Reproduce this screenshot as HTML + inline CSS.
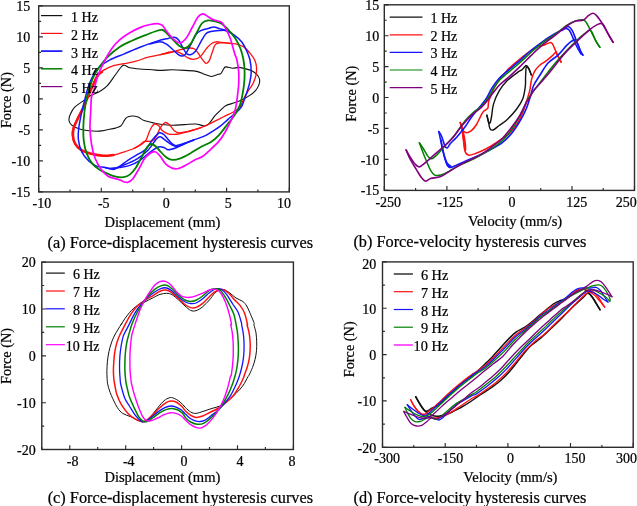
<!DOCTYPE html>
<html><head><meta charset="utf-8"><title>Hysteresis curves</title>
<style>html,body{margin:0;padding:0;background:#fff;}svg{display:block;filter:opacity(1);}text{font-family:"Liberation Serif",serif;fill:#000;stroke:#000;stroke-width:0.22px;}</style></head>
<body>
<svg width="637" height="506" viewBox="0 0 637 506">
<rect width="637" height="506" fill="#fff"/>
<g>
<path d="M90 96C92.7 94.5 96.3 93.5 99.2 91.8C102.1 90.1 104.7 88.6 107.4 85.7C110.1 82.8 113.2 77.7 115.6 74.5C118 71.3 120.2 67.8 121.7 66.3C123.2 64.8 123.3 65 124.7 65.3C126.1 65.5 127.3 67.2 129.8 67.8C132.4 68.4 136.2 68.7 140 69C143.8 69.3 148.9 69.6 152.3 69.8C155.7 70 157.1 70.4 160.4 70.4C163.7 70.4 168.2 69.8 172.2 69.8C176.2 69.8 180.4 70.1 184.5 70.4C188.6 70.7 193.3 70.7 196.7 71.4C200.1 72.1 202.5 73.7 204.9 74.5C207.3 75.3 209.3 76.3 211 76.5C212.7 76.7 213.8 75.8 215 75.4C216.2 75 217.2 74.6 218.2 74.3C219.2 74 220.1 74.4 220.9 73.6C221.8 72.8 222.5 70.6 223.3 69.5C224.1 68.4 224.1 67.1 225.7 66.9C227.3 66.7 230.6 68.2 232.8 68.3C235 68.4 236.5 67.3 238.7 67.4C240.9 67.5 243.6 68.4 245.8 68.9C248 69.5 250 69.8 251.8 70.7C253.6 71.6 255.2 72.8 256.5 74.2C257.8 75.6 259.1 77.2 259.5 79C259.9 80.8 259.6 82.9 258.9 84.9C258.2 86.9 256.9 89 255.3 90.8C253.7 92.6 251.8 94 249.4 95.6C247 97.2 243.9 99 241.1 100.3C238.3 101.6 235.4 102.4 232.8 103.3C230.2 104.2 227.7 104.6 225.7 105.7C223.7 106.8 222.7 108.1 220.9 109.8C219.1 111.5 217 113.4 215 115.7C213 118 210.7 121.9 209 123.6C207.3 125.3 207.1 125.9 204.9 126C202.7 126.1 199.1 124.2 195.7 124C192.3 123.8 188.4 124.4 184.5 124.6C180.6 124.8 176.2 125.3 172.2 125.2C168.2 125.1 163.7 124.6 160.4 124.2C157.1 123.8 155 123.2 152.3 122.6C149.6 122 146.5 121.4 144.1 120.5C141.7 119.6 140 117.8 138 117C136 116.2 133.8 115.9 131.9 116C130 116.1 128.2 116.5 126.8 117.4C125.4 118.3 124.7 120.1 123.7 121.5C122.7 122.9 122.1 124.9 120.7 126C119.3 127.1 117.8 127.5 115.6 128.1C113.4 128.7 110.1 129.2 107.4 129.7C104.7 130.2 102.3 130.9 99.2 131.1C96.1 131.3 92.4 131.1 89 130.7C85.6 130.3 81.7 129.6 78.8 128.7C75.9 127.8 73.3 126.6 71.7 125.2C70.1 123.8 69.2 122.3 69 120.5C68.8 118.7 69.2 116.6 70.2 114.4C71.2 112.2 72.6 109.4 74.7 107.2C76.8 105 80.4 103 82.9 101.1C85.5 99.2 87.3 97.5 90 96Z" fill="none" stroke="#111" stroke-width="1.1" stroke-linejoin="round" stroke-linecap="round"/>
<path d="M72.3 135.8C72 133.1 72.2 130.8 73.1 127.7C74 124.6 76 121.2 77.8 117.4C79.6 113.7 82.1 109.1 83.9 105.2C85.7 101.3 87 97.6 88.5 94C90 90.4 91.6 86.8 93.1 83.7C94.5 80.6 95.5 77.7 97.2 75.5C98.9 73.3 100.6 72 103.3 70.4C106 68.8 109.8 66.9 113.5 65.7C117.2 64.5 122 64 125.8 63.3C129.6 62.5 132.3 62.2 136 61.2C139.7 60.2 144.1 58.2 148.2 57.1C152.3 56 156.7 55.4 160.4 54.7C164.1 54 166.9 53.6 170.2 52.7C173.5 51.9 177.3 50.4 180.4 49.6C183.5 48.8 186.2 48.1 188.6 48C191 47.9 193 48 194.7 49C196.4 50 197.4 52.2 198.8 54.1C200.2 56 201.7 58.7 202.9 60.2C204.1 61.7 204.9 63.1 205.9 63.3C206.9 63.5 208 62.9 209 61.2C210 59.5 211 55.8 212 53.1C213 50.4 213.9 46.6 215.1 44.9C216.3 43.2 217.5 43.2 219.2 42.9C220.9 42.6 222.6 42.7 225.3 42.9C228 43.1 232.4 43.2 235.5 43.9C238.6 44.6 241.1 45.2 243.7 46.9C246.2 48.6 249 51.9 250.8 54.1C252.6 56.3 253.8 57.8 254.7 60C255.6 62.2 256.3 64.5 256.5 67.1C256.7 69.7 256.5 72.6 255.9 75.4C255.3 78.2 254.2 81.1 252.9 83.7C251.6 86.3 249.7 88.4 248.2 90.8C246.7 93.2 245.2 95.7 244.1 97.9C243 100.1 242.6 102.1 241.7 103.9C240.8 105.7 240.2 107.2 238.7 108.6C237.2 110 235 111 232.8 112.2C230.6 113.4 228.1 114.5 225.7 115.7C223.3 116.9 221.2 118 218.6 119.3C216 120.6 213 122.2 210 123.6C207 125 204.4 126.4 200.8 127.7C197.2 129.1 192.2 130.7 188.6 131.7C185 132.7 181.8 133.4 179.4 133.9C177 134.4 176.2 134.4 174.3 134.4C172.4 134.4 170 134.4 168 133.8C166 133.2 164.1 132.1 162.5 130.7C160.9 129.3 159.8 126.7 158.4 125.6C157 124.5 155.7 123.5 154.3 124.2C152.9 124.9 151.5 127.1 150.2 129.7C148.8 132.3 147.5 137.5 146.2 139.9C144.8 142.3 144.1 142.6 142.1 144C140.1 145.4 137 147.2 133.9 148.5C130.8 149.8 127.1 151 123.7 152.1C120.3 153.2 116.9 154.5 113.5 155.2C110.1 155.9 107 156.4 103.3 156.2C99.6 156 94.8 155.1 91.1 154.2C87.4 153.2 83.6 152.2 80.9 150.5C78.2 148.8 76.1 146.4 74.7 144C73.3 141.6 72.6 138.5 72.3 135.8Z" fill="none" stroke="#ff1010" stroke-width="1.3" stroke-linejoin="round" stroke-linecap="round"/>
<path d="M160.4 54.7C162 54.2 167.5 52.5 170.2 52C172.8 51.5 174.3 51.1 176.3 51.5C178.3 51.9 180.4 53 182.4 54.1C184.4 55.2 186.6 57.4 188.6 58.2C190.6 59.1 192.7 59.6 194.7 59.2C196.7 58.9 198.8 58 200.8 56.1C202.8 54.2 205 50.1 206.9 48C208.8 45.9 210.5 44.3 212 43.3C213.5 42.3 214.4 42 216.1 41.8C217.8 41.6 219.7 42.1 222 42.3C224.3 42.5 228.7 43.1 230 43.2" fill="none" stroke="#ff1010" stroke-width="1.3" stroke-linejoin="round" stroke-linecap="round"/>
<path d="M200.8 127.7C198.8 128.3 192.2 130.3 188.6 131.2C185 132 181.8 132.9 179.4 132.8C177 132.7 176 132.1 174.3 130.7C172.6 129.3 170.7 125.9 169.2 124.6C167.7 123.2 166.6 122.1 165.1 122.6C163.6 123.1 161.8 125.5 160.4 127.7C159 129.9 157.8 133.6 156.4 135.8C155.1 138 154.4 140 152.3 140.9C150.2 141.8 146.2 140.8 144.1 141.5C142 142.2 141.7 143.6 140 144.8C138.3 146 134.9 147.9 133.9 148.5" fill="none" stroke="#ff1010" stroke-width="1.3" stroke-linejoin="round" stroke-linecap="round"/>
<path d="M102 71.8C101.3 72.5 99 73.8 97.6 75.8C96.2 77.8 95 80.9 93.6 84C92.2 87.1 90.5 90.6 89 94.2C87.5 97.8 86.2 101.5 84.4 105.4C82.6 109.3 80.2 113.8 78.4 117.5C76.6 121.2 74.7 124.8 73.8 127.8C72.9 130.8 72.8 133.1 73 135.8C73.2 138.5 73.9 141.4 75.3 143.8C76.7 146.2 78.6 148.3 81.3 150C84 151.7 87.6 152.8 91.3 153.7C95 154.6 99.6 155.5 103.3 155.7C107 155.9 111.8 155.1 113.5 155" fill="none" stroke="#ff1010" stroke-width="2.5" stroke-linejoin="round" stroke-linecap="round"/>
<path d="M78.4 139.9C77.9 135.8 78.2 132.5 78.8 127.7C79.4 122.9 80.7 116.8 81.9 111.3C83.1 105.8 85 98.9 86 95C87 91.1 87 90.7 88 87.8C89 84.9 90.2 81 92.1 77.6C94 74.2 96.3 70.2 99.2 67.3C102.1 64.4 105.3 62.4 109.4 60.2C113.5 58 118.6 56.2 123.7 54.1C128.8 52 134.6 49.4 140 47.3C145.4 45.2 151.7 42.9 156.4 41.4C161.1 39.9 165.2 39.1 168.2 38.4C171.2 37.7 172.6 37.1 174.3 37.3C176 37.5 177.1 38.2 178.4 39.8C179.8 41.4 181.1 44.6 182.4 46.9C183.8 49.2 185.1 52.2 186.5 53.5C187.9 54.8 189.1 55.1 190.6 54.7C192.1 54.3 194 53.1 195.7 51C197.4 48.9 199.1 44.7 200.8 41.8C202.5 38.9 204.2 35.4 205.9 33.7C207.6 32 208.8 32.1 211 31.6C213.2 31.1 216.8 30.8 219.2 30.6C221.6 30.4 222.9 29.9 225.3 30.6C227.7 31.3 230.8 32.8 233.5 34.7C236.2 36.6 239.4 39.1 241.6 41.8C243.8 44.5 245.3 48 246.7 51C248.1 54 249.2 56.5 250 60C250.8 63.5 251.2 68.4 251.2 71.9C251.2 75.5 250.7 78 250 81.3C249.3 84.6 248 88.8 247 92C246 95.2 245.1 97.7 244.1 100.3C243.1 102.9 242.6 105.2 241.1 107.4C239.6 109.6 237.4 111.4 235.2 113.4C233 115.4 230.4 117.3 228 119.3C225.6 121.3 223.2 123.8 221 125.5C218.8 127.2 217.8 128 215.1 129.7C212.4 131.4 208.6 134 204.9 135.8C201.2 137.6 196.4 138.9 192.7 140.3C188.9 141.7 185.3 143.1 182.4 144C179.5 144.9 177.3 145.9 175.3 145.6C173.3 145.2 172.1 143.7 170.2 141.9C168.3 140.1 165.8 136.3 164.1 134.8C162.4 133.3 160.9 133 160 132.8C159.1 132.6 159.7 132.2 158.4 133.4C157.1 134.6 154.3 137.3 152.3 139.9C150.3 142.5 148.6 146.7 146.2 149.1C143.8 151.5 141.1 152.3 138 154.2C134.9 156.1 130.9 158.3 127.8 160.3C124.7 162.3 122 164.9 119.6 166.4C117.2 167.9 115.9 169.3 113.5 169.5C111.1 169.7 108 167.9 105.3 167.4C102.6 166.9 99.9 167.4 97.2 166.4C94.5 165.4 91.5 163.7 89 161.3C86.5 158.9 83.7 155.7 81.9 152.1C80.1 148.5 78.9 144 78.4 139.9Z" fill="none" stroke="#1414ff" stroke-width="1.5" stroke-linejoin="round" stroke-linecap="round"/>
<path d="M150 44C151.7 43.6 157.3 41.8 160 41.8C162.7 41.8 164.1 42.7 166.1 43.9C168.1 45.1 170.1 47.2 172.2 49C174.2 50.8 176.7 53.5 178.4 54.7C180.1 55.9 181.2 56.2 182.4 56.1C183.6 56 184.1 56 185.5 54.1C186.9 52.2 188.9 48.1 190.6 44.9C192.3 41.7 194 37.1 195.7 34.7C197.4 32.3 198.6 31.7 200.8 30.6C203 29.5 206.8 28.8 209 28.2C211.2 27.6 212.4 26.8 214.1 26.9C215.8 27 217.3 28.1 219.2 28.6C221.1 29.2 223.2 29.4 225.3 30.2C227.4 31 230.9 33 232 33.5" fill="none" stroke="#1414ff" stroke-width="1.5" stroke-linejoin="round" stroke-linecap="round"/>
<path d="M109 168.5C110.8 168.3 116.1 167.9 119.6 167.4C123.1 166.9 126.4 166.6 129.8 165.4C133.2 164.2 136.6 162.5 140 160.3C143.4 158.1 147.1 154.3 150.2 152.1C153.3 149.9 156 147.7 158.4 147C160.8 146.3 162.9 147.2 164.5 147.7C166.1 148.1 166.2 149.7 168.2 149.7C170.2 149.7 173.7 148.6 176.3 147.7C178.9 146.8 181.1 145.3 184 144C186.9 142.7 192.3 140.7 194 140" fill="none" stroke="#1414ff" stroke-width="1.5" stroke-linejoin="round" stroke-linecap="round"/>
<path d="M105 167.6C106.4 167.8 109.7 169.2 113.5 168.5C117.3 167.8 123.7 165.1 127.8 163.4C131.9 161.7 134.6 160.5 138 158.3C141.4 156.1 145.1 153.3 148.2 150.1C151.3 146.9 154.4 141.1 156.4 138.9C158.4 136.7 158.8 136.5 160.4 136.8C162 137.1 164.1 139.5 166.1 140.9C168.1 142.3 170.2 144.1 172.2 145C174.2 145.9 175.7 146.8 178 146.5C180.3 146.2 184.7 143.6 186 143" fill="none" stroke="#1414ff" stroke-width="1.5" stroke-linejoin="round" stroke-linecap="round"/>
<path d="M83.9 141.9C83.3 137.5 83.2 132.8 83.3 127.7C83.4 122.6 83.9 116.4 84.5 111.3C85.1 106.2 86.2 100.6 87 97C87.8 93.4 88 93 89 89.8C90 86.6 91.4 81.3 93.1 77.6C94.8 73.8 96.8 70.7 99.2 67.3C101.6 63.9 104 60.5 107.4 57.1C110.8 53.7 115.5 49.6 119.6 46.9C123.7 44.2 127.8 42.7 131.9 40.8C136 38.9 140 37.3 144.1 35.7C148.2 34.1 153.3 31.9 156.4 31C159.5 30.1 160.9 29.7 162.5 30C164.1 30.3 164.5 31.2 166.1 32.7C167.7 34.2 170 36.6 172.2 38.8C174.4 41 177.2 44.4 179.4 45.9C181.6 47.4 183.6 48.3 185.5 48C187.4 47.7 188.7 46.4 190.6 43.9C192.5 41.4 194.8 36.1 196.7 32.7C198.6 29.3 199.9 25.6 201.8 23.5C203.7 21.4 205.8 20.8 208 20.4C210.2 20 212.9 20.9 215.1 21.4C217.3 21.9 219.2 22.3 221.2 23.5C223.2 24.7 224.9 26.1 227.3 28.6C229.7 31.2 233.3 35.4 235.5 38.8C237.7 42.2 239.3 45.5 240.6 49C241.9 52.5 242.8 56.2 243.5 60C244.2 63.8 244.5 68 244.6 71.9C244.7 75.9 244.5 79.8 244.1 83.7C243.7 87.7 243 92 242.3 95.6C241.6 99.2 240.9 102.3 239.9 105.1C238.9 107.9 237.7 109.8 236.3 112.2C234.9 114.6 233.1 117.2 231.6 119.3C230.1 121.3 229.4 121.9 227.3 124.5C225.2 127.1 221.9 131.9 219.2 134.8C216.5 137.7 214.1 139.9 211 141.9C207.9 143.9 204.2 145.1 200.8 147C197.4 148.9 194 151.3 190.6 153.2C187.2 155.1 183.5 157.2 180.4 158.3C177.3 159.4 174.6 160.1 172.2 159.9C169.8 159.7 168.1 158.7 166.1 157.2C164.1 155.7 161.6 152.8 160 151.1C158.4 149.4 157.8 148.2 156.4 147C155 145.8 152.8 144 151.3 144C149.8 144 148.7 145 147.2 147C145.7 149 144 152.8 142.1 156.2C140.2 159.6 138.1 164.3 136 167.4C133.9 170.5 131.9 173 129.8 174.6C127.8 176.2 126.1 176.9 123.7 177.2C121.3 177.5 118.3 177.2 115.6 176.6C112.9 176 110.1 174.8 107.4 173.6C104.7 172.4 101.8 171.2 99.2 169.5C96.7 167.8 94.1 166 92.1 163.4C90.1 160.8 88.4 157.8 87 154.2C85.6 150.6 84.5 146.3 83.9 141.9Z" fill="none" stroke="#008000" stroke-width="1.8" stroke-linejoin="round" stroke-linecap="round"/>
<path d="M90 127.7C89.9 122.2 90.5 116.4 90.7 111.3C91 106.2 90.9 100.6 91.5 97C92.1 93.4 93.1 93 94.1 89.8C95 86.6 95.7 82 97.2 77.6C98.7 73.2 100.9 68.1 103.3 63.3C105.7 58.5 108.8 52.9 111.5 49C114.2 45.1 116.5 42.5 119.6 39.8C122.6 37.1 126.4 34.7 129.8 32.7C133.2 30.7 136.6 29 140 27.6C143.4 26.2 147.3 25.1 150.2 24.5C153.1 23.9 155.3 23.5 157.4 23.7C159.5 23.9 161.1 24.4 162.5 25.5C163.9 26.6 164.1 28.2 166.1 30.6C168.1 33 171.9 37.8 174.3 39.8C176.7 41.8 178.4 43.2 180.4 42.9C182.4 42.6 184.4 40.5 186.5 37.8C188.6 35.1 190.8 29.9 192.7 26.5C194.6 23.1 196.1 19.4 197.8 17.3C199.5 15.2 201 13.9 202.9 13.9C204.8 13.9 207 16.2 209 17.3C211 18.4 213.1 19.6 215.1 20.4C217.1 21.2 219.5 20.8 221.2 22C222.9 23.2 223.8 24.8 225.3 27.6C226.8 30.4 228.9 34.5 230.4 38.8C231.9 43 233.4 49.6 234.5 53.1C235.6 56.6 236.2 56.9 236.9 60C237.6 63.1 238.4 68 238.7 71.9C239 75.9 238.9 79.8 238.7 83.7C238.5 87.7 238 91.6 237.5 95.6C237 99.5 236.6 103.9 235.8 107.4C235 111 233.8 114.4 232.8 116.9C231.8 119.4 231.2 120 230 122.5C228.8 125 227.1 128.6 225.3 131.7C223.5 134.8 221.6 138 219.2 140.9C216.8 143.8 213.7 146.6 211 149.1C208.3 151.6 205.6 154.4 202.9 156.2C200.2 158 197.4 158.5 194.7 159.9C192 161.3 189.2 163.4 186.5 164.8C183.8 166.2 180.8 167.9 178.4 168.5C176 169.1 174.2 168.8 172.2 168.1C170.1 167.4 168.1 166.3 166.1 164.4C164.1 162.5 162.2 158.6 160.4 156.5C158.6 154.4 157 152.2 155.3 151.7C153.6 151.1 152.1 151.9 150.2 153.2C148.3 154.5 146.1 156.4 144.1 159.3C142.1 162.2 139.9 167.3 138 170.5C136.1 173.7 134.6 176.7 132.9 178.7C131.2 180.7 129.3 181.8 127.8 182.3C126.3 182.8 125.4 182.2 123.7 181.7C122 181.2 120.1 179.9 117.6 179.1C115 178.2 111.1 178.2 108.4 176.6C105.7 175 103.5 172.6 101.3 169.5C99.1 166.4 96.7 162.6 95.1 158.3C93.5 154.1 92.3 149.1 91.5 144C90.7 138.9 90.1 133.2 90 127.7Z" fill="none" stroke="#ff00ff" stroke-width="1.7" stroke-linejoin="round" stroke-linecap="round"/>
<rect x="38.7" y="5.9" width="250.6" height="186" fill="none" stroke="#2c2c2c" stroke-width="1.4"/>
<path d="M38.7 191.9v-4.2M70 191.9v-2.4M101.3 191.9v-4.2M132.7 191.9v-2.4M164 191.9v-4.2M195.3 191.9v-2.4M226.6 191.9v-4.2M257.9 191.9v-2.4M289.3 191.9v-4.2M38.7 5.9h4.2M38.7 21.4h2.4M38.7 36.9h4.2M38.7 52.4h2.4M38.7 67.9h4.2M38.7 83.4h2.4M38.7 98.9h4.2M38.7 114.4h2.4M38.7 129.9h4.2M38.7 145.4h2.4M38.7 160.9h4.2M38.7 176.4h2.4M38.7 191.9h4.2" stroke="#2c2c2c" stroke-width="1.15" fill="none"/>
<text x="30.2" y="10.8" font-size="14" text-anchor="end">15</text>
<text x="30.2" y="41.8" font-size="14" text-anchor="end">10</text>
<text x="30.2" y="72.8" font-size="14" text-anchor="end">5</text>
<text x="30.2" y="103.8" font-size="14" text-anchor="end">0</text>
<text x="30.2" y="134.8" font-size="14" text-anchor="end">-5</text>
<text x="30.2" y="165.8" font-size="14" text-anchor="end">-10</text>
<text x="30.2" y="196.8" font-size="14" text-anchor="end">-15</text>
<text x="41.9" y="208.2" font-size="14" text-anchor="middle">-10</text>
<text x="103.8" y="208.2" font-size="14" text-anchor="middle">-5</text>
<text x="166.3" y="208.2" font-size="14" text-anchor="middle">0</text>
<text x="228.3" y="208.2" font-size="14" text-anchor="middle">5</text>
<text x="283.9" y="208.2" font-size="14" text-anchor="middle">10</text>
<text x="104.4" y="226.7" font-size="14.55" text-anchor="start">Displacement (mm)</text>
<text transform="translate(10.8 100.1) rotate(-90)" font-size="14.3" text-anchor="middle">Force (N)</text>
<text x="47.6" y="247.6" font-size="16.3" text-anchor="start">(a) Force-displacement hysteresis curves</text>
<path d="M41 15.6H62.3" stroke="#111" stroke-width="1.2"/>
<text x="71.1" y="22.1" font-size="14">1 Hz</text>
<path d="M41 33.4H62.3" stroke="#ff1010" stroke-width="1.2"/>
<text x="71.1" y="39.9" font-size="14">2 Hz</text>
<path d="M41 51.1H62.3" stroke="#1414ff" stroke-width="1.7"/>
<text x="71.1" y="57.6" font-size="14">3 Hz</text>
<path d="M41 68.8H62.3" stroke="#008000" stroke-width="1.5"/>
<text x="71.1" y="75.3" font-size="14">4 Hz</text>
<path d="M41 86.6H62.3" stroke="#800080" stroke-width="1.2"/>
<text x="71.1" y="93.1" font-size="14">5 Hz</text>
</g>
<g>
<path d="M486.9 115.3C487.2 116.4 488 120.7 488.5 122C489 123.3 489.5 123.8 490 123C490.5 122.2 490.9 120.2 491.5 117C492.1 113.8 492.2 108.5 493.5 104.1C494.8 99.7 496.9 94.7 499.2 90.8C501.5 86.9 504.2 83.7 507.3 80.6C510.4 77.5 515.1 74.2 517.6 72.4C520.1 70.6 520.9 70.7 522.3 69.5C523.7 68.3 524.9 65.7 526 65.5C527.1 65.3 527.9 66.8 528.8 68.4C529.7 70 530.9 73.9 531.3 75" fill="none" stroke="#111" stroke-width="1.4" stroke-linejoin="round" stroke-linecap="round"/>
<path d="M531.3 75C530.9 74 529.6 70.1 528.8 68.8C528 67.5 526.8 65.8 526.3 67C525.8 68.2 525.8 72.7 525.6 76C525.4 79.3 525.8 82.9 525.3 86.7C524.8 90.5 524.2 95.2 522.7 99C521.2 102.8 519.1 105.8 516.5 109.2C513.9 112.6 510.2 116.7 507.3 119.4C504.4 122.1 501.6 123.7 499.2 125.5C496.8 127.3 494.6 129.5 493.1 130C491.6 130.5 490.8 129.9 490 128.6C489.2 127.3 489 124.2 488.5 122C488 119.8 487.2 116.4 486.9 115.3" fill="none" stroke="#111" stroke-width="1.4" stroke-linejoin="round" stroke-linecap="round"/>
<path d="M460.2 122.4C460.7 123.8 462.3 128.9 463.3 130.6C464.3 132.3 465 132.7 466.3 132.7C467.6 132.7 469.7 132 471.4 130.6C473.1 129.2 475 126.9 476.5 124.5C478 122.1 479.4 118.5 480.6 116.3C481.8 114.1 482.5 112.5 483.7 111.2C484.9 109.9 486.9 109.9 487.8 108.2C488.7 106.5 487.8 104.4 488.8 101C489.9 97.6 492.2 91.5 494.1 87.8C496 84.1 497.9 81.9 500 79C502.1 76.1 504.1 73.4 507 70.4C509.9 67.4 513.8 64.1 517.2 61.2C520.6 58.3 524 55.6 527.4 53.1C530.8 50.6 534.9 47.8 537.6 46.5C540.3 45.2 541.5 46 543.7 45.3C545.9 44.6 549.2 42.1 550.9 42.4C552.6 42.7 552.9 44.9 553.9 46.9C554.9 48.9 555.8 51.5 557 54.1C558.2 56.7 560.4 60.9 561.1 62.2" fill="none" stroke="#ff1010" stroke-width="1.5" stroke-linejoin="round" stroke-linecap="round"/>
<path d="M561.1 62.2C560.4 60.9 557.9 56.2 557 54.5C556.1 52.8 556.9 51.7 556 52C555.1 52.3 553.6 54.6 551.9 56.1C550.2 57.6 547.8 59.7 545.8 61.2C543.8 62.7 541.6 63.6 539.7 65.3C537.8 67 536 69 534.6 71.4C533.2 73.8 532.3 76.5 531.5 79.6C530.7 82.7 530.6 86.4 529.9 89.8C529.1 93.2 528.1 96.3 527 100C525.9 103.7 524.7 108 523 112C521.3 116 519.2 120.5 517 124C514.8 127.5 512 130.9 510 133C508 135.1 507.5 135 505.1 136.7C502.8 138.3 499.1 140.8 495.9 142.9C492.7 145 489.1 147.2 485.7 149C482.3 150.8 478.4 152.5 475.5 153.5C472.6 154.5 470.2 155.5 468.4 155.1C466.6 154.7 465.7 153.4 464.9 151C464.1 148.6 464.1 144.2 463.7 140.8C463.2 137.4 462.8 133.7 462.2 130.6C461.6 127.5 460.5 123.8 460.2 122.4" fill="none" stroke="#ff1010" stroke-width="1.5" stroke-linejoin="round" stroke-linecap="round"/>
<path d="M461 124C461.6 126.3 463.8 133.5 464.5 137.8C465.2 142.1 465.6 149 465.5 150C465.4 151 464.5 146.8 464 144C463.5 141.2 462.8 134.8 462.5 133" fill="none" stroke="#ff1010" stroke-width="1.5" stroke-linejoin="round" stroke-linecap="round"/>
<path d="M438.8 131.6C439.3 132.4 440.8 134.3 441.8 136.7C442.8 139.1 444 144 444.9 145.9C445.8 147.8 446.4 148.3 447.3 148C448.2 147.7 448.4 145.8 450 143.9C451.6 142 454.6 139.6 457.1 136.7C459.7 133.8 462.9 129.7 465.3 126.5C467.7 123.3 469.3 120.2 471.4 117.3C473.5 114.4 475.6 112 478 109C480.4 106 483.7 102.5 486 99C488.3 95.5 489.8 91.4 492 88C494.2 84.6 496.5 81.3 499 78.5C501.5 75.7 503.6 74.3 507 71.4C510.4 68.5 515.1 64.8 519.2 61.2C523.3 57.6 527.4 53.4 531.5 50C535.6 46.6 540 43.4 543.7 40.8C547.4 38.2 550.8 36.2 553.9 34.3C557 32.4 559.7 30.9 562.1 29.6C564.5 28.3 566.5 26.3 568.2 26.5C569.9 26.7 570.9 28.2 572.3 30.6C573.7 33 575 37.4 576.4 40.8C577.8 44.2 579.4 48.6 580.5 51C581.6 53.4 582.5 54.4 582.9 55.1" fill="none" stroke="#1414ff" stroke-width="1.6" stroke-linejoin="round" stroke-linecap="round"/>
<path d="M582.9 55.1C582.5 54.4 581.6 53.4 580.5 51C579.4 48.6 577.4 42.2 576 40.5C574.6 38.8 573.9 39.9 572.3 40.8C570.7 41.7 568.6 43.5 566.2 45.9C563.8 48.3 561.1 52.2 558 55.1C554.9 58 550.8 59.9 547.8 63.3C544.8 66.7 542.1 71.8 539.7 75.5C537.3 79.2 535 82.3 533.5 85.7C532 89.1 531.7 92.2 530.5 95.9C529.3 99.7 528.2 104.1 526.5 108.2C524.8 112.3 522.8 116.3 520.4 120.4C518 124.5 515.3 128.9 512.2 132.7C509.1 136.4 505.7 140 502 142.9C498.3 145.8 493.9 147.8 489.8 150C485.7 152.2 481.7 154.2 477.6 156.1C473.5 158 469.2 159.5 465.3 161.2C461.4 162.9 456.8 165.3 454.1 166.3C451.4 167.3 450.4 168.2 449 167.3C447.6 166.5 446.9 163.9 445.9 161.2C444.9 158.5 443.8 154.4 442.9 151C442 147.6 441.5 144 440.8 140.8C440.1 137.6 439.1 133.1 438.8 131.6" fill="none" stroke="#1414ff" stroke-width="1.6" stroke-linejoin="round" stroke-linecap="round"/>
<path d="M441 140C441.4 142.2 442.5 149.2 443.5 153C444.5 156.8 445.8 160.8 447 163C448.2 165.2 450.9 166.1 451 166.5C451.1 166.9 448.6 167.1 447.5 165.5C446.4 163.9 445.3 159.9 444.5 157C443.7 154.1 442.8 149.5 442.5 148" fill="none" stroke="#1414ff" stroke-width="1.6" stroke-linejoin="round" stroke-linecap="round"/>
<path d="M562 30.5C562.7 30.2 564.8 28.5 566 28.5C567.2 28.5 568.3 28.9 569.5 30.5C570.7 32.1 571.8 35.2 573 38C574.2 40.8 575.7 44.3 577 47C578.3 49.7 580.3 52.8 581 54" fill="none" stroke="#1414ff" stroke-width="1.6" stroke-linejoin="round" stroke-linecap="round"/>
<path d="M419.4 142.9C420.1 143.9 422 146.6 423.5 149C425 151.4 427.2 155.5 428.6 157.1C430 158.7 430.2 159.1 431.6 158.8C433 158.5 434.5 157.2 436.7 155.1C438.9 152.9 441.8 149.3 444.9 145.9C448 142.5 451.7 138.9 455.1 134.7C458.5 130.4 462.2 124.2 465.3 120.4C468.4 116.7 470.8 114.6 473.5 112.2C476.2 109.8 479.2 108.5 481.6 106.1C484 103.7 485.9 101 488 98C490.1 95 492 91.1 494 88C496 84.9 497.8 81.9 500 79.5C502.2 77.1 503.8 76.2 507 73.5C510.2 70.8 515.1 66.9 519.2 63.3C523.3 59.7 527.4 55.6 531.5 52C535.6 48.4 539.6 44.8 543.7 41.8C547.8 38.8 552.2 36.4 556 33.7C559.8 31 563.2 27.6 566.2 25.5C569.2 23.4 571.8 22.3 574.3 21.4C576.8 20.4 579.6 19.8 581.5 19.8C583.4 19.8 584.1 19.6 585.6 21.4C587.1 23.2 589 27.4 590.7 30.6C592.4 33.8 594.3 38 595.8 40.8C597.3 43.6 599.2 46.2 599.9 47.3" fill="none" stroke="#008000" stroke-width="1.5" stroke-linejoin="round" stroke-linecap="round"/>
<path d="M599.9 47.3C599.2 46.2 597.4 43.6 595.8 40.8C594.2 38 592.4 31.7 590.5 30.5C588.6 29.3 587 32 584.6 33.7C582.2 35.4 579.5 37.9 576.4 40.8C573.3 43.7 569.6 47.4 566.2 51C562.8 54.6 559.1 58.6 556 62.2C552.9 65.8 550.9 68.5 547.8 72.4C544.7 76.3 540.3 82.1 537.6 85.7C534.9 89.3 533.2 91.5 531.5 93.9C529.8 96.3 529 97 527.4 100C525.8 103 524.2 107.7 522 112C519.8 116.3 517 121.5 514 126C511 130.5 507.7 135.2 504 139C500.3 142.8 496 145.8 492 148.5C488 151.2 484 153.3 480 155.5C476 157.7 471.8 159.7 468 161.5C464.2 163.3 460.3 164.7 457.1 166.3C453.9 168 451.7 169.9 449 171.4C446.3 172.9 443.2 174.5 440.8 175.1C438.4 175.7 436.4 175.9 434.7 175.1C433 174.3 432 172.7 430.6 170.4C429.2 168.1 427.9 164.4 426.5 161.2C425.1 158 423.6 154.1 422.4 151C421.2 147.9 419.9 144.2 419.4 142.9" fill="none" stroke="#008000" stroke-width="1.5" stroke-linejoin="round" stroke-linecap="round"/>
<path d="M406.1 150C406.8 151.2 408.7 154.7 410.2 157.1C411.7 159.5 413.8 162.7 415.3 164.3C416.8 165.9 417.9 167.1 419.4 166.9C420.9 166.7 422.3 165.1 424.5 163.3C426.7 161.5 430 158.5 432.7 156.1C435.4 153.7 437.8 151.7 440.8 149C443.9 146.3 447.6 143.6 451 139.8C454.4 136.1 457.8 130.6 461.2 126.5C464.6 122.4 468 118.5 471.4 115.3C474.8 112.1 478.9 109.6 481.6 107.1C484.3 104.5 485.9 102.3 487.8 100C489.7 97.7 491.1 95.4 493 93C494.9 90.6 496.7 87.9 499 85.5C501.3 83.1 503.6 81.6 507 78.6C510.4 75.6 515.1 71.2 519.2 67.3C523.3 63.4 527.4 59 531.5 55.1C535.6 51.2 539.6 47.3 543.7 43.9C547.8 40.5 552.2 37.6 556 34.7C559.8 31.8 563.2 28.7 566.2 26.5C569.2 24.3 571.4 22.5 574.3 21.4C577.2 20.3 581.3 20.9 583.5 20C585.7 19.1 586.1 17.4 587.6 16.3C589.1 15.2 591.2 13.4 592.7 13.3C594.2 13.2 595.1 14 596.8 15.9C598.5 17.8 601 21.5 602.9 24.5C604.8 27.5 606.3 30.7 608 33.7C609.7 36.7 612.2 41 613.1 42.4" fill="none" stroke="#800080" stroke-width="1.6" stroke-linejoin="round" stroke-linecap="round"/>
<path d="M613.1 42.4C612.2 41 609.8 36.8 608 33.7C606.2 30.6 604.4 25.5 602.5 24C600.6 22.5 599.1 23.8 596.8 24.9C594.5 26 592 27.8 588.6 30.6C585.2 33.4 580.5 37.9 576.4 41.8C572.3 45.7 568.2 49.5 564.1 54.1C560 58.7 555.6 64.8 551.9 69.4C548.2 74 544.8 78 541.7 81.6C538.6 85.2 535.7 87.7 533.5 90.8C531.3 93.9 529.6 98.1 528.4 100C527.2 101.9 527.8 99.6 526.5 102C525.2 104.4 522.8 110.2 520.4 114.3C518 118.4 515.3 122.4 512.2 126.5C509.1 130.6 505.4 135.4 502 138.8C498.6 142.2 495.2 144.4 491.8 146.9C488.4 149.4 485 152.1 481.6 154.1C478.2 156.1 474.8 157.5 471.4 159.2C468 160.9 464.6 162.4 461.2 164.3C457.8 166.2 454.4 168.4 451 170.4C447.6 172.4 444.2 175.1 440.8 176.5C437.4 177.9 433.2 177.8 430.6 178.6C428.1 179.4 427 181.4 425.5 181.2C424 181 422.9 179.6 421.4 177.6C419.9 175.6 418.2 172.5 416.3 169.4C414.4 166.3 411.9 162.4 410.2 159.2C408.5 156 406.8 151.5 406.1 150" fill="none" stroke="#800080" stroke-width="1.6" stroke-linejoin="round" stroke-linecap="round"/>
<rect x="384.3" y="4.8" width="250.2" height="185.6" fill="none" stroke="#2c2c2c" stroke-width="1.4"/>
<path d="M384.3 190.3v-4.2M415.6 190.3v-2.4M446.9 190.3v-4.2M478.1 190.3v-2.4M509.4 190.3v-4.2M540.7 190.3v-2.4M572 190.3v-4.2M603.2 190.3v-2.4M634.5 190.3v-4.2M384.3 4.8h4.2M384.3 20.2h2.4M384.3 35.7h4.2M384.3 51.1h2.4M384.3 66.6h4.2M384.3 82.1h2.4M384.3 97.5h4.2M384.3 113h2.4M384.3 128.4h4.2M384.3 143.9h2.4M384.3 159.4h4.2M384.3 174.8h2.4M384.3 190.3h4.2" stroke="#2c2c2c" stroke-width="1.15" fill="none"/>
<text x="379.3" y="9.8" font-size="14" text-anchor="end">15</text>
<text x="379.3" y="40.8" font-size="14" text-anchor="end">10</text>
<text x="379.3" y="71.7" font-size="14" text-anchor="end">5</text>
<text x="379.3" y="102.6" font-size="14" text-anchor="end">0</text>
<text x="379.3" y="133.5" font-size="14" text-anchor="end">-5</text>
<text x="379.3" y="164.5" font-size="14" text-anchor="end">-10</text>
<text x="379.3" y="195.4" font-size="14" text-anchor="end">-15</text>
<text x="388.3" y="206.5" font-size="14" text-anchor="middle">-250</text>
<text x="450.2" y="206.5" font-size="14" text-anchor="middle">-125</text>
<text x="512" y="206.5" font-size="14" text-anchor="middle">0</text>
<text x="576.7" y="206.5" font-size="14" text-anchor="middle">125</text>
<text x="615.7" y="206.5" font-size="14" text-anchor="start">250</text>
<text x="468" y="226" font-size="14.55" text-anchor="start">Velocity (mm/s)</text>
<text transform="translate(355.8 93.7) rotate(-90)" font-size="14.3" text-anchor="middle">Force (N)</text>
<text x="353.4" y="247" font-size="16.3" text-anchor="start">(b) Force-velocity hysteresis curves</text>
<path d="M389.7 17.1H422.5" stroke="#111" stroke-width="1.2"/>
<text x="430.5" y="23" font-size="14">1 Hz</text>
<path d="M389.7 34.8H422.5" stroke="#ff1010" stroke-width="1.2"/>
<text x="430.5" y="40.6" font-size="14">2 Hz</text>
<path d="M389.7 52.4H422.5" stroke="#1414ff" stroke-width="1.2"/>
<text x="430.5" y="58.3" font-size="14">3 Hz</text>
<path d="M389.7 70H422.5" stroke="#008000" stroke-width="1.2"/>
<text x="430.5" y="76" font-size="14">4 Hz</text>
<path d="M389.7 87.7H422.5" stroke="#800080" stroke-width="1.2"/>
<text x="430.5" y="93.6" font-size="14">5 Hz</text>
</g>
<g>
<path d="M121.4 324C123.8 320.3 126.7 315.8 129.4 312.7C132.1 309.6 135 307.1 137.4 305.4C139.8 303.7 141.3 303.7 144 302.4C146.7 301.1 150.7 298.9 153.4 297.6C156.1 296.3 157.8 295.1 160 294.4C162.2 293.7 164.7 293.2 166.7 293.3C168.7 293.4 170 293.6 172 294.7C174 295.8 176.5 298.1 178.7 300C180.9 301.9 183 304.3 185 306C187 307.7 188.9 309.6 190.7 310.4C192.5 311.2 194 311.3 196 310.7C198 310.1 200.5 308.5 202.7 306.7C204.9 304.9 207.4 302.2 209.4 300C211.4 297.8 213 295 214.7 293.3C216.4 291.6 217.8 290.6 219.4 290C221 289.4 222.3 289.2 224 289.6C225.7 290.1 227.4 291.3 229.4 292.7C231.4 294.1 233.8 296.6 236 298C238.2 299.4 240.9 300.1 242.7 301.4C244.5 302.7 245.4 303.8 246.7 306C248 308.2 249.5 311.9 250.7 314.7C251.9 317.5 253.4 321 254 322.7C254.6 324.4 253.7 323.3 254 325C254.3 326.7 255.6 330.1 256 332.9C256.4 335.7 256.6 338.8 256.7 341.8C256.8 344.8 256.8 347.7 256.5 350.7C256.2 353.7 255.7 356.8 255 359.6C254.3 362.4 253.5 364.9 252.5 367.5C251.5 370.1 249.8 373.5 249.1 375C248.3 376.5 249.1 374.9 248 376.7C246.9 378.5 244.7 383.2 242.7 386C240.7 388.8 238.4 390.9 236 393.4C233.6 395.8 230.7 398.6 228 400.7C225.3 402.8 222.7 404.7 220 406C217.3 407.3 214.7 407.5 212 408.4C209.3 409.2 206.7 410.3 204 411.1C201.3 411.9 198.2 413.2 196 413.4C193.8 413.5 192.5 413 190.7 412C188.9 411 187.1 409.1 185.3 407.4C183.5 405.7 182.1 403.4 180 401.8C177.9 400.2 174.7 398.4 172.7 397.8C170.7 397.2 169.7 397.6 168 398.3C166.3 399 164.7 400.1 162.7 402C160.7 403.9 158.2 407.3 156 410C153.8 412.7 151.4 416.1 149.4 418C147.4 419.9 145.8 420.9 144 421.4C142.2 421.8 140.9 421.5 138.7 420.7C136.5 419.9 133.4 417.9 130.7 416.7C128 415.5 124.9 414.9 122.7 413.4C120.5 411.8 119.2 410.4 117.3 407.4C115.4 404.4 112.9 399.1 111.3 395.4C109.7 391.7 108.6 387.8 107.9 385C107.2 382.2 107.3 380.9 107.1 378.5C106.9 376.1 106.9 373.4 106.9 370.6C107 367.8 107.1 364.8 107.4 361.7C107.7 358.6 108.2 354.9 108.9 351.8C109.6 348.7 110.4 345.7 111.4 342.9C112.4 340.1 113.1 338.1 114.8 335C116.5 331.9 119 327.7 121.4 324Z" fill="none" stroke="#111" stroke-width="1.0" stroke-linejoin="round" stroke-linecap="round"/>
<path d="M124.7 325.4C126.6 321.8 129.1 316.8 131.4 313.4C133.7 309.9 136.4 306.9 138.7 304.7C141 302.5 142.9 301.6 145.4 300C147.9 298.4 151 296.8 153.4 295.3C155.8 293.9 157.9 292.2 160 291.3C162.1 290.4 164.1 289.8 166 290C167.9 290.2 169.3 290.9 171.4 292.3C173.5 293.8 176.4 296.7 178.7 298.7C181 300.7 183 303 185 304.5C187 306 188.9 307.1 190.7 307.6C192.5 308.1 194 308.1 196 307.4C198 306.7 200.5 305.2 202.7 303.4C204.9 301.6 207.5 298.5 209.4 296.7C211.3 294.9 212.4 293.4 214 292.3C215.6 291.2 217.1 290.4 218.7 290C220.3 289.6 221.7 289.1 223.4 289.6C225.1 290.2 226.8 291.6 228.7 293.3C230.6 295 232.8 298 234.7 300C236.6 302 238.3 303.2 240 305.4C241.7 307.6 243.5 310.3 244.7 313.4C245.9 316.5 247 322.1 247.4 324C247.8 325.9 246.8 323.5 247.1 325C247.4 326.5 248.6 330.1 249.1 332.9C249.6 335.7 249.9 338.8 250.1 341.8C250.3 344.8 250.3 347.7 250.1 350.7C249.9 353.7 249.6 356.8 249.1 359.6C248.6 362.4 247.9 364.9 247.1 367.5C246.3 370.1 245 373.2 244.4 375C243.8 376.8 244.4 375.9 243.4 378C242.4 380.1 240.4 384.5 238.7 387.4C237 390.3 235.4 393 233.4 395.4C231.4 397.8 229.1 399.9 226.7 402C224.2 404.1 221.4 406.3 218.7 408C216 409.7 213.4 410.7 210.7 412C208 413.3 205.1 415.1 202.7 416C200.2 416.9 198 417.5 196 417.4C194 417.3 192.5 416.5 190.7 415.4C188.9 414.3 186.9 412.3 185.3 410.7C183.8 409.1 183 407.4 181.4 406C179.8 404.6 177.8 402.8 176 402C174.2 401.2 172.5 400.9 170.7 401.1C168.9 401.3 167.4 401.8 165.4 403.1C163.4 404.4 160.9 406.6 158.7 408.7C156.5 410.8 154.1 413.4 152 415.4C149.9 417.4 147.8 419.7 146 420.7C144.2 421.7 143.3 421.9 141.4 421.6C139.5 421.3 136.9 420.1 134.7 418.7C132.5 417.3 130.2 415.7 128 413.4C125.8 411.1 123.3 407.9 121.4 404.7C119.5 401.5 117.8 397.3 116.7 394C115.6 390.7 115.3 387.6 114.8 385C114.3 382.4 114 380.9 113.8 378.5C113.6 376.1 113.4 373.4 113.4 370.6C113.4 367.8 113.6 364.8 113.8 361.7C114 358.6 114.3 354.9 114.8 351.8C115.3 348.7 116 345.7 116.8 342.9C117.6 340.1 118.5 337.9 119.8 335C121.1 332.1 122.8 329 124.7 325.4Z" fill="none" stroke="#ff1010" stroke-width="1.5" stroke-linejoin="round" stroke-linecap="round"/>
<path d="M128.7 325.4C130.5 321.8 132.6 317 134.7 313.4C136.8 309.8 139.2 306.7 141.4 304C143.6 301.3 145.8 299.1 148 297.1C150.2 295.1 152.5 293.5 154.7 292C156.9 290.5 159.4 289 161.4 288.3C163.4 287.6 164.9 287.6 166.7 288C168.5 288.4 170 289.4 172 290.9C174 292.4 176.5 295.3 178.7 297.1C180.9 298.9 183 300.7 185 301.8C187 302.9 188.9 303.4 190.7 303.6C192.5 303.8 194 303.8 196 303C198 302.2 200.6 300.3 202.7 298.7C204.8 297.1 206.9 294.8 208.7 293.3C210.5 291.9 211.9 290.8 213.4 290C214.9 289.2 216.1 288.8 217.4 288.7C218.7 288.6 219.9 288.3 221.4 289.3C222.9 290.3 224.8 292.2 226.7 294.7C228.6 297.1 230.8 301.1 232.7 304C234.6 306.9 236.6 308.9 238 312C239.4 315.1 240.8 320.5 241.4 322.7C242 324.9 241.4 323.3 241.7 325C242 326.7 242.8 330.1 243.2 332.9C243.6 335.7 243.9 338.8 244 341.8C244.1 344.8 244.1 347.7 244 350.7C243.9 353.7 243.6 356.8 243.2 359.6C242.8 362.4 242.3 364.9 241.7 367.5C241.1 370.1 240.6 372.1 239.7 375C238.8 377.9 237.5 381.3 236 384.7C234.5 388.1 232.7 392.2 230.7 395.4C228.7 398.6 226.2 401.4 224 404C221.8 406.6 219.6 408.7 217.4 410.7C215.2 412.7 212.9 414.3 210.7 416C208.5 417.7 206.2 419.8 204 420.7C201.8 421.6 199.5 421.7 197.3 421.4C195.1 421.1 192.7 419.9 190.7 418.7C188.7 417.5 186.9 415.4 185.3 414C183.8 412.6 183 411.1 181.4 410C179.8 408.9 177.8 407.8 176 407.1C174.2 406.4 172.5 405.9 170.7 406C168.9 406.1 167.4 406.5 165.4 407.4C163.4 408.3 160.9 409.8 158.7 411.4C156.5 412.9 154.2 415 152 416.7C149.8 418.4 147.2 420.6 145.4 421.4C143.6 422.2 143.1 422.4 141.4 421.4C139.7 420.4 137.4 418 135.4 415.4C133.4 412.8 131.2 408.9 129.4 406C127.6 403.1 126.1 401.5 124.7 398C123.3 394.5 121.7 388.2 120.9 385C120.1 381.8 120.3 380.9 120.1 378.5C119.9 376.1 119.7 373.4 119.6 370.6C119.5 367.8 119.5 364.8 119.6 361.7C119.7 358.6 119.9 354.9 120.3 351.8C120.7 348.7 121.1 345.7 121.7 342.9C122.3 340.1 122.5 337.9 123.7 335C124.9 332.1 126.9 329 128.7 325.4Z" fill="none" stroke="#1414ff" stroke-width="1.3" stroke-linejoin="round" stroke-linecap="round"/>
<path d="M132 324C133.4 320.2 135.6 315.4 137.4 312C139.2 308.6 140.9 306.1 142.7 303.4C144.5 300.7 146 298.4 148 296C150 293.6 152.5 291 154.7 289.3C156.9 287.6 159.4 286.3 161.4 285.6C163.4 284.9 164.9 284.8 166.7 285.3C168.5 285.8 170 287 172 288.7C174 290.4 176.5 293.4 178.7 295.3C180.9 297.2 183 299 185 300C187 301 188.9 301.3 190.7 301.4C192.5 301.4 194 301.2 196 300.3C198 299.4 200.7 297.5 202.7 296C204.7 294.5 206.4 292.4 208 291.3C209.6 290.2 210.7 289.5 212 289.1C213.3 288.7 214.7 288.6 216 288.7C217.3 288.8 218.4 288.6 220 290C221.6 291.4 223.7 294.6 225.4 297.3C227.1 300 228.6 303.1 230 306C231.4 308.9 233 311.5 234 314.7C235 317.9 235.6 322 236.2 325C236.8 328 237.2 330.1 237.5 332.9C237.8 335.7 238 338.8 238.2 341.8C238.3 344.8 238.4 347.7 238.4 350.7C238.4 353.7 238.2 356.8 237.9 359.6C237.7 362.4 237.3 364.9 236.9 367.5C236.5 370.1 236 372.4 235.3 375C234.6 377.6 233.9 380.1 232.7 383.4C231.5 386.7 229.7 391.3 228 394.7C226.3 398.1 224.6 401.1 222.7 404C220.8 406.9 218.7 409.7 216.7 412C214.7 414.3 212.8 416.1 210.7 418C208.6 419.9 206.2 422.1 204 423.1C201.8 424.2 199.5 424.5 197.3 424.3C195.1 424.1 192.7 423.1 190.7 422C188.7 420.9 186.6 418.8 185.3 417.4C184 416 184 414.7 182.7 413.4C181.4 412.1 179.2 410.6 177.4 409.8C175.6 409 173.8 408.5 172 408.4C170.2 408.3 168.7 408.7 166.7 409.4C164.7 410.1 162.2 411.4 160 412.7C157.8 414 155.5 415.9 153.4 417.4C151.3 418.8 149.1 420.7 147.4 421.4C145.7 422.1 144.9 422.2 143.4 421.4C141.9 420.6 140.3 419 138.7 416.7C137.1 414.4 135.6 410.7 134 407.4C132.4 404.1 130.7 400.4 129.4 396.7C128.2 393 127.2 388 126.5 385C125.8 382 125.8 380.9 125.5 378.5C125.2 376.1 125 373.4 124.9 370.6C124.8 367.8 124.8 364.8 124.9 361.7C125 358.6 125.2 354.9 125.5 351.8C125.8 348.7 126.2 345.7 126.7 342.9C127.2 340.1 127.8 338.1 128.7 335C129.6 331.9 130.6 327.8 132 324Z" fill="none" stroke="#008000" stroke-width="1.5" stroke-linejoin="round" stroke-linecap="round"/>
<path d="M134.7 325.4C135.8 321.8 137.4 317 138.7 313.4C140 309.8 141.1 307.1 142.7 304C144.2 300.9 146 297.8 148 294.7C150 291.6 152.7 287.5 154.7 285.3C156.7 283.1 158.2 282.3 160 281.6C161.8 280.9 163.6 280.8 165.4 281.3C167.2 281.8 168.7 282.8 170.7 284.7C172.7 286.6 175.4 290.7 177.4 292.7C179.4 294.7 180.5 295.9 182.7 296.7C184.9 297.5 188.3 297.5 190.7 297.3C193.1 297.1 195.1 296.1 197.3 295.3C199.5 294.5 202 293.6 204 292.7C206 291.8 207.8 290.6 209.4 290C211 289.4 212.1 289.1 213.4 289.1C214.7 289.1 216.1 289.2 217.4 290C218.7 290.8 220.1 292 221.4 294C222.7 296 224.2 299 225.4 302C226.6 305 227.7 308.3 228.7 312C229.7 315.7 231.1 321.8 231.4 324C231.8 326.2 230.7 323.5 230.8 325C231 326.5 231.9 330.1 232.3 332.9C232.7 335.7 232.9 338.8 233.1 341.8C233.3 344.8 233.3 347.7 233.3 350.7C233.3 353.7 233.2 356.8 233 359.6C232.8 362.4 232.6 364.9 232.3 367.5C232 370.1 231.6 373.5 231.3 375C231 376.5 231.1 374.4 230.4 376.7C229.8 379 228.6 384.8 227.4 388.7C226.2 392.6 224.9 396.6 223.4 400C221.9 403.4 220.4 406.5 218.7 409.4C217 412.3 215.4 414.8 213.4 417.4C211.4 419.9 208.7 423 206.7 424.7C204.7 426.4 203.1 427.3 201.4 427.8C199.7 428.3 198.5 428.2 196.7 427.7C194.9 427.2 192.6 426 190.7 424.7C188.8 423.4 186.9 421.4 185.3 420C183.8 418.6 183 417.1 181.4 416C179.8 414.9 177.8 413.9 176 413.4C174.2 412.8 172.7 412.5 170.7 412.7C168.7 412.9 166.2 413.8 164 414.7C161.8 415.6 159.6 417 157.4 418C155.2 419 152.6 420.3 150.7 420.7C148.8 421.1 147.3 421.1 146 420.4C144.7 419.7 143.9 418.9 142.7 416.7C141.5 414.5 140 410.7 138.7 407.4C137.4 404.1 136.2 400.4 135 396.7C133.8 393 132.5 388 131.8 385C131.1 382 131.1 380.9 130.8 378.5C130.5 376.1 130.2 373.4 130.1 370.6C129.9 367.8 129.9 364.8 129.9 361.7C129.9 358.6 129.9 354.9 130.1 351.8C130.2 348.7 130.5 345.7 130.8 342.9C131.1 340.1 131.2 337.9 131.8 335C132.5 332.1 133.5 329 134.7 325.4Z" fill="none" stroke="#ff00ff" stroke-width="1.4" stroke-linejoin="round" stroke-linecap="round"/>
<rect x="41.8" y="262.1" width="251.6" height="187.4" fill="none" stroke="#2c2c2c" stroke-width="1.4"/>
<path d="M41.8 449.5v-2.4M69.8 449.5v-4.2M97.7 449.5v-2.4M125.7 449.5v-4.2M153.6 449.5v-2.4M181.6 449.5v-4.2M209.5 449.5v-2.4M237.5 449.5v-4.2M265.4 449.5v-2.4M293.4 449.5v-4.2M41.8 262.1h4.2M41.8 285.5h2.4M41.8 309h4.2M41.8 332.4h2.4M41.8 355.8h4.2M41.8 379.2h2.4M41.8 402.7h4.2M41.8 426.1h2.4M41.8 449.5h4.2" stroke="#2c2c2c" stroke-width="1.15" fill="none"/>
<text x="35.7" y="267.2" font-size="14" text-anchor="end">20</text>
<text x="35.7" y="314.1" font-size="14" text-anchor="end">10</text>
<text x="35.7" y="360.9" font-size="14" text-anchor="end">0</text>
<text x="35.7" y="407.8" font-size="14" text-anchor="end">-10</text>
<text x="35.7" y="454.6" font-size="14" text-anchor="end">-20</text>
<text x="72.6" y="465.8" font-size="14" text-anchor="middle">-8</text>
<text x="128.8" y="465.8" font-size="14" text-anchor="middle">-4</text>
<text x="183.9" y="465.8" font-size="14" text-anchor="middle">0</text>
<text x="239.9" y="465.8" font-size="14" text-anchor="middle">4</text>
<text x="292.1" y="465.8" font-size="14" text-anchor="middle">8</text>
<text x="104.4" y="481.5" font-size="14.55" text-anchor="start">Displacement (mm)</text>
<text transform="translate(10.5 355.9) rotate(-90)" font-size="14.3" text-anchor="middle">Force (N)</text>
<text x="47.7" y="502.6" font-size="16.3" text-anchor="start">(c) Force-displacement hysteresis curves</text>
<path d="M46 273.1H64.8" stroke="#111" stroke-width="1.2"/>
<text x="73" y="279.2" font-size="14">6 Hz</text>
<path d="M46 291H64.8" stroke="#ff1010" stroke-width="1.2"/>
<text x="73" y="297.1" font-size="14">7 Hz</text>
<path d="M46 308.8H64.8" stroke="#1414ff" stroke-width="1.2"/>
<text x="73" y="314.9" font-size="14">8 Hz</text>
<path d="M46 326.8H64.8" stroke="#008000" stroke-width="1.2"/>
<text x="73" y="332.9" font-size="14">9 Hz</text>
<path d="M46 344.7H64.8" stroke="#ff00ff" stroke-width="1.2"/>
<text x="65.7" y="350.8" font-size="14">10 Hz</text>
</g>
<g>
<path d="M415.7 396.7C416.1 397.5 417.4 399.7 418.4 401.4C419.4 403.1 420.5 405.1 421.7 406.7C422.9 408.3 423.9 411 425.7 411.3C427.5 411.5 429.9 409.2 432.4 408C434.8 406.8 437.7 405.9 440.4 403.9C443.1 401.9 445.7 398.6 448.4 396C451.1 393.3 453.5 390.6 456.4 388C459.3 385.3 462.6 382.5 465.7 380.1C468.8 377.6 471.8 376.1 475 373.4C478.2 370.7 482 366.9 485 364C488 361.1 490.6 358.6 493.1 355.9C495.6 353.3 497.5 351 500 348.3C502.5 345.6 505.3 342.3 508 339.6C510.7 336.9 513.3 334.1 516 332.1C518.7 330.1 521.8 329 524 327.7C526.2 326.3 526.7 325.9 529.4 323.8C532.1 321.7 537.1 317.3 540 314.9C542.9 312.5 544.5 311.2 546.7 309.4C548.9 307.6 551.1 305.5 553.3 304C555.5 302.5 558 301.4 560 300.6C562 299.8 563.4 299.9 565.4 298.9C567.4 298 569.8 296.1 572 294.6C574.2 293.2 576.7 291.2 578.7 290.3C580.7 289.4 582.5 289 584 289.3C585.5 289.6 586.7 290.8 588 292C589.3 293.2 590.7 294.8 592 296.7C593.3 298.6 594.7 301.2 596 303.4C597.3 305.6 599.3 308.7 600 309.8" fill="none" stroke="#111" stroke-width="1.5" stroke-linejoin="round" stroke-linecap="round"/>
<path d="M600 309.8C599.1 308.3 596.2 303.1 594.7 300.7C593.2 298.3 591.9 296.6 590.7 295.4C589.5 294.2 588.7 293 587.4 293.4C586.1 293.8 584.4 296.4 582.7 298C581 299.6 579.5 300.8 577.4 302.7C575.3 304.6 572.9 306.8 570 309.7C567.1 312.6 563.3 316.7 560 320C556.7 323.3 553.3 326.4 550 329.5C546.7 332.6 543.3 335.9 540 338.7C536.7 341.5 533.3 343.2 530 346.5C526.7 349.8 523.3 354.4 520 358.5C516.7 362.6 513.3 367.2 510 371C506.7 374.8 503.3 378.1 500 381C496.7 383.9 493.3 386.2 490 388.5C486.7 390.8 483.3 392.8 480 395C476.7 397.2 473.3 399.8 470 402C466.7 404.2 463.3 406.2 460 408C456.7 409.8 453.3 411.7 450 413C446.7 414.3 443 415.6 440 416C437 416.4 434.4 416.2 432 415.5C429.6 414.8 427.4 413 425.7 411.6C424 410.2 422.9 408.7 421.7 407C420.5 405.3 419.4 403.3 418.4 401.6C417.4 399.9 416.1 397.5 415.7 396.7" fill="none" stroke="#111" stroke-width="1.5" stroke-linejoin="round" stroke-linecap="round"/>
<path d="M410.7 399.8C411.2 400.7 412.5 403.6 413.7 405.4C414.9 407.2 416.4 409.3 417.7 410.7C419 412.1 420.5 413.2 421.7 413.8C422.9 414.4 424 414.3 425 414C426 413.7 426.2 413.3 427.7 412.2C429.1 411.1 431.4 409.4 433.7 407.4C436 405.3 438.8 402.6 441.7 399.9C444.6 397.2 447.9 394 451 391.3C454.1 388.5 457.3 385.9 460.4 383.3C463.5 380.8 467.5 377.7 469.7 376.1C471.9 374.4 471.1 375.1 473.7 373.4C476.2 371.7 481.4 368.5 485 365.6C488.6 362.7 491.7 359.4 495 356C498.3 352.7 501.7 349.1 505 345.6C508.3 342.2 511.7 338.3 515 335.4C518.3 332.5 521.7 330.9 525 328.3C528.3 325.8 532.5 322.2 535 320.1C537.5 317.9 537.8 317.4 540 315.5C542.2 313.6 545.3 310.6 548 308.8C550.7 306.9 553.3 305.8 556 304.3C558.7 302.7 561.3 301.5 564 299.7C566.7 297.9 569.5 295 572 293.3C574.5 291.7 576.7 290.3 578.7 289.6C580.7 288.9 582.2 289.1 584 289.3C585.8 289.5 587.8 290.2 589.4 290.7C591 291.1 592.1 291.1 593.4 292C594.7 292.9 596.1 294.3 597.4 296C598.7 297.7 600.2 300.1 601.4 302C602.6 303.9 604.2 306.2 604.7 307.1" fill="none" stroke="#ff1010" stroke-width="1.3" stroke-linejoin="round" stroke-linecap="round"/>
<path d="M604.7 307.1C603.9 306.2 601.7 303.3 600 301.4C598.3 299.4 596.4 297 594.7 295.4C593 293.8 591.3 292.3 590 292C588.7 291.7 588.4 292.2 586.7 293.4C585 294.6 582.7 296.8 580 299.4C577.3 301.9 574 305.4 570.7 308.7C567.4 312 563.3 315.8 560 319C556.7 322.2 553.4 325.4 550.7 328C548 330.6 546.5 332.4 544 334.5C541.5 336.6 539 337.9 536 340.4C533 343 529.3 346.4 526 349.9C522.7 353.5 519.3 357.9 516 361.8C512.7 365.7 509.3 369.8 506 373.2C502.7 376.6 499.3 379.6 496 382.4C492.7 385.1 489.3 387.3 486 389.7C482.7 392.1 477.8 395.4 476 396.6C474.2 397.8 476.3 396 475 396.7C473.7 397.4 470.8 399.1 468.4 400.7C466 402.2 463.1 404.2 460.4 406C457.7 407.8 455.1 409.7 452.4 411.4C449.7 413.1 447.1 414.9 444.4 416C441.7 417.1 438.8 417.9 436.4 418C433.9 418.1 431.6 417.2 429.7 416.7C427.8 416.2 426.3 415.4 425 415C423.7 414.6 422.9 414.9 421.7 414.2C420.5 413.5 419 412.4 417.7 411C416.4 409.6 414.9 407.5 413.7 405.6C412.5 403.7 411.2 400.8 410.7 399.8" fill="none" stroke="#ff1010" stroke-width="1.3" stroke-linejoin="round" stroke-linecap="round"/>
<path d="M407.3 404.7C408.1 405.4 410.6 407.4 412.3 408.7C414 410 415.9 411.6 417.7 412.7C419.5 413.8 421.3 415.1 423 415.4C424.7 415.7 425.9 415.3 427.7 414.2C429.5 413.1 431.4 410.9 433.7 408.7C436 406.5 438.8 403.9 441.7 401.2C444.6 398.5 447.9 395.4 451 392.7C454.1 389.9 457.3 387.3 460.4 384.7C463.5 382.2 467.3 379.3 469.7 377.4C472.1 375.5 472.4 375.2 475 373.4C477.6 371.7 481.7 369.5 485 366.9C488.3 364.3 491.7 360.9 495 357.8C498.3 354.6 501.7 351.3 505 347.8C508.3 344.4 511.7 340.4 515 337.3C518.3 334.2 521.7 332.2 525 329.4C528.3 326.7 532.5 323.1 535 320.9C537.5 318.7 537.8 317.9 540 316.2C542.2 314.5 545.1 312.7 548 310.7C550.9 308.6 554.2 306.2 557.3 303.9C560.4 301.6 564 299 566.7 296.9C569.4 294.8 571.4 292.7 573.4 291.3C575.4 289.8 576.9 288.8 578.7 288.3C580.5 287.7 582 288 584 288C586 288 588.7 288.1 590.7 288C592.7 287.9 594.5 287 596 287.3C597.5 287.6 598.7 288.6 600 290C601.3 291.4 602.7 294 604 296C605.3 298 607.3 301 608 302" fill="none" stroke="#1414ff" stroke-width="1.3" stroke-linejoin="round" stroke-linecap="round"/>
<path d="M608 302C607.1 301.4 604.5 299.9 602.7 298.7C600.9 297.5 599.2 295.8 597.4 294.7C595.6 293.6 593.8 292.6 592 292C590.2 291.4 588.7 290.6 586.7 291.4C584.7 292.2 582.7 294.5 580 296.7C577.3 298.9 574 301.6 570.7 304.7C567.4 307.8 563.3 311.8 560 315C556.7 318.2 553.5 321.3 550.7 324C548 326.7 546 328.7 543.5 331C541 333.3 538.9 335 536 337.7C533.1 340.4 529.3 343.8 526 347.2C522.7 350.7 519.3 354.7 516 358.4C512.7 362.1 509.3 366.1 506 369.6C502.7 373 499.3 376.2 496 379.1C492.7 382 489.3 384.4 486 386.9C482.7 389.4 478.3 392.8 476 394.2C473.7 395.6 474.3 394.4 472.4 395.4C470.5 396.4 467.1 398.4 464.4 400C461.7 401.6 458.8 402.9 456.4 404.7C453.9 406.5 451.9 408.6 449.7 410.7C447.5 412.8 444.8 415.8 443 417.4C441.2 418.9 440.6 419.8 439 420C437.4 420.2 435.5 419.2 433.7 418.7C431.9 418.1 430.2 416.7 428.4 416.7C426.6 416.7 424.6 418.2 423 418.7C421.4 419.1 420.3 419.8 419 419.4C417.7 418.9 416.3 417.4 415 416C413.7 414.6 412.3 412.6 411 410.7C409.7 408.8 407.9 405.7 407.3 404.7" fill="none" stroke="#1414ff" stroke-width="1.3" stroke-linejoin="round" stroke-linecap="round"/>
<path d="M405 407.4C405.8 407.9 407.8 409.5 409.7 410.7C411.6 411.9 414.2 413.7 416.4 414.7C418.6 415.7 421 416.7 423 416.7C425 416.7 426.4 416.2 428.4 415C430.4 413.8 432.6 411.7 435 409.5C437.4 407.3 440.1 404.6 443 401.9C445.9 399.2 449.3 396 452.4 393.3C455.5 390.5 458.6 387.9 461.7 385.3C464.8 382.8 468.4 380.1 471 378.1C473.6 376.1 474.7 375 477 373.4C479.3 371.8 482 370.8 485 368.6C488 366.3 491.7 362.9 495 359.9C498.3 356.9 501.7 354 505 350.6C508.3 347.2 511.7 343 515 339.7C518.3 336.4 521.7 333.8 525 330.8C528.3 327.9 532.5 324.2 535 321.9C537.5 319.7 537.8 319.2 540 317.5C542.2 315.8 545.1 313.7 548 311.7C550.9 309.6 554.2 307.5 557.3 305.2C560.4 303 563.6 300.4 566.7 298.4C569.8 296.4 572.9 294.8 576 293.1C579.1 291.5 582.5 289.9 585.4 288.7C588.3 287.5 591.2 286.3 593.4 285.7C595.6 285.1 597.2 284.7 598.7 284.9C600.2 285.1 601.4 285.5 602.7 286.7C604 287.9 605.5 290 606.7 292C607.9 294 609.5 297.2 610 298.7C610.5 300.2 609.8 300.8 609.8 301.2" fill="none" stroke="#008000" stroke-width="1.3" stroke-linejoin="round" stroke-linecap="round"/>
<path d="M609.8 301.2C609.1 300.4 607.2 298.1 605.4 296.7C603.5 295.3 600.7 293.8 598.7 292.7C596.7 291.6 595.2 290.4 593.4 290C591.6 289.6 590.2 289.1 588 290C585.8 290.9 582.9 293.2 580 295.4C577.1 297.6 574 300.5 570.7 303.4C567.4 306.3 563.3 310 560 313C556.7 316 553.5 318.8 550.7 321.5C547.9 324.2 545.5 326.7 543 329C540.5 331.3 538.8 332.7 536 335.4C533.2 338 529.3 341.6 526 345C522.7 348.4 519.3 352 516 355.6C512.7 359.2 509.3 363.1 506 366.5C502.7 370 499.3 373.4 496 376.4C492.7 379.4 489.3 381.9 486 384.6C482.7 387.2 478.3 390.6 476 392.2C473.7 393.8 474.3 392.9 472.4 394C470.5 395.1 467.1 397.1 464.4 398.7C461.7 400.3 459.1 401.5 456.4 403.4C453.7 405.3 450.8 407.9 448.4 410C445.9 412.1 443.7 414.4 441.7 416C439.7 417.6 438.2 419.2 436.4 419.4C434.6 419.6 432.8 417.5 431 417.4C429.2 417.3 427.5 418 425.7 418.7C423.9 419.4 422.2 420.9 420.4 421.4C418.6 421.9 416.6 422.1 415 421.6C413.4 421.2 412.2 420.1 411 418.7C409.8 417.3 408.7 415.3 407.7 413.4C406.7 411.5 405.4 408.4 405 407.4" fill="none" stroke="#008000" stroke-width="1.3" stroke-linejoin="round" stroke-linecap="round"/>
<path d="M403.7 411.4C404.5 411.7 406.4 412.6 408.3 413.4C410.2 414.2 412.8 415.2 415 416C417.2 416.8 419.5 417.7 421.7 418C423.9 418.3 426.2 418.5 428.4 417.7C430.6 416.8 432.6 414.9 435 412.8C437.4 410.7 440.1 407.8 443 405.2C445.9 402.6 449.3 399.9 452.4 397.3C455.5 394.6 458.6 391.9 461.7 389.3C464.8 386.8 467.8 384.6 471 382.1C474.2 379.5 477.1 377.1 480.8 374C484.5 371 489.5 367 493.1 364C496.8 361.1 499.3 359.8 502.7 356.5C506.1 353.2 509.3 348.5 513.3 344.2C517.3 339.9 522.2 335 526.7 330.7C531.2 326.5 536.5 321.9 540 318.9C543.5 315.9 545.1 315 548 312.9C550.9 310.7 554.2 308.3 557.3 305.9C560.4 303.6 563.8 301 566.7 298.9C569.6 296.7 572 294.7 574.7 293C577.4 291.3 580.5 290.1 582.7 288.8C584.9 287.5 586.2 286.5 588 285.3C589.8 284.1 591.8 282.1 593.4 281.3C595 280.5 596.1 280.3 597.4 280.4C598.7 280.5 600.1 280.9 601.4 282C602.7 283.1 604.1 284.9 605.4 286.7C606.7 288.5 608.3 291 609.4 292.7C610.5 294.4 611.6 296 612 296.7" fill="none" stroke="#800080" stroke-width="1.3" stroke-linejoin="round" stroke-linecap="round"/>
<path d="M612 296.7C611.3 296.4 609.8 295.5 608 294.7C606.2 293.9 603.6 292.8 601.4 292C599.2 291.2 596.7 290.3 594.7 290C592.7 289.7 591.2 289.6 589.4 290C587.6 290.4 586.2 291.1 584 292.7C581.8 294.3 578.9 297.2 576 299.4C573.1 301.6 569.4 304.1 566.7 306C564 307.9 562.8 308.4 560 310.7C557.2 313 553.3 316.7 550 319.7C546.7 322.7 543.3 325.6 540 328.7C536.7 331.8 533.3 335.3 530 338.5C526.7 341.7 523.3 344.7 520 348C516.7 351.3 513.3 354.9 510 358.5C506.7 362.1 503.3 366.2 500 369.5C496.7 372.8 493.3 375.6 490 378.5C486.7 381.4 482.9 384.4 480 386.7C477.1 388.9 475 390 472.4 392C469.8 394 467.1 396.5 464.4 398.7C461.7 400.9 459.1 403.2 456.4 405.4C453.7 407.6 450.8 410.1 448.4 412C445.9 413.9 443.7 415.6 441.7 416.7C439.7 417.8 438.2 418.5 436.4 418.7C434.6 418.9 432.6 417.6 431 418C429.4 418.4 428.6 420.2 427 421.4C425.4 422.6 423.5 424.6 421.7 425.4C419.9 426.2 418.2 426.3 416.4 426C414.6 425.7 412.6 424.8 411 423.4C409.4 422 408.2 419.4 407 417.4C405.8 415.4 404.2 412.4 403.7 411.4" fill="none" stroke="#800080" stroke-width="1.3" stroke-linejoin="round" stroke-linecap="round"/>
<rect x="382.5" y="261.9" width="250.7" height="185.4" fill="none" stroke="#2c2c2c" stroke-width="1.4"/>
<path d="M382.5 447.3v-4.2M413.8 447.3v-2.4M445.2 447.3v-4.2M476.5 447.3v-2.4M507.9 447.3v-4.2M539.2 447.3v-2.4M570.5 447.3v-4.2M601.9 447.3v-2.4M633.2 447.3v-4.2M382.5 261.9h4.2M382.5 285.1h2.4M382.5 308.2h4.2M382.5 331.4h2.4M382.5 354.6h4.2M382.5 377.8h2.4M382.5 400.9h4.2M382.5 424.1h2.4M382.5 447.3h4.2" stroke="#2c2c2c" stroke-width="1.15" fill="none"/>
<text x="376.2" y="268.5" font-size="14" text-anchor="end">20</text>
<text x="376.2" y="313.6" font-size="14" text-anchor="end">10</text>
<text x="376.2" y="359.9" font-size="14" text-anchor="end">0</text>
<text x="376.2" y="406.2" font-size="14" text-anchor="end">-10</text>
<text x="376.2" y="452.6" font-size="14" text-anchor="end">-20</text>
<text x="387.2" y="463" font-size="14" text-anchor="middle">-300</text>
<text x="450.5" y="463" font-size="14" text-anchor="middle">-150</text>
<text x="510.4" y="463" font-size="14" text-anchor="middle">0</text>
<text x="575" y="463" font-size="14" text-anchor="middle">150</text>
<text x="616.1" y="463" font-size="14" text-anchor="start">300</text>
<text x="463.3" y="481.5" font-size="14.55" text-anchor="start">Velocity (mm/s)</text>
<text transform="translate(354 349.3) rotate(-90)" font-size="14.3" text-anchor="middle">Force (N)</text>
<text x="353.5" y="502.6" font-size="16.3" text-anchor="start">(d) Force-velocity hysteresis curves</text>
<path d="M393.8 274H412.9" stroke="#111" stroke-width="1.3"/>
<text x="420.9" y="280" font-size="14.3">6 Hz</text>
<path d="M393.8 291.7H412.9" stroke="#ff1010" stroke-width="1.2"/>
<text x="420.9" y="297.7" font-size="14.3">7 Hz</text>
<path d="M393.8 309.5H412.9" stroke="#1414ff" stroke-width="1.2"/>
<text x="420.9" y="315.5" font-size="14.3">8 Hz</text>
<path d="M393.8 327.2H412.9" stroke="#008000" stroke-width="1.2"/>
<text x="420.9" y="333.2" font-size="14.3">9 Hz</text>
<path d="M393.8 345H412.9" stroke="#ff00ff" stroke-width="1.3"/>
<text x="413.6" y="351" font-size="14.3">10 Hz</text>
</g>
</svg>
</body></html>
